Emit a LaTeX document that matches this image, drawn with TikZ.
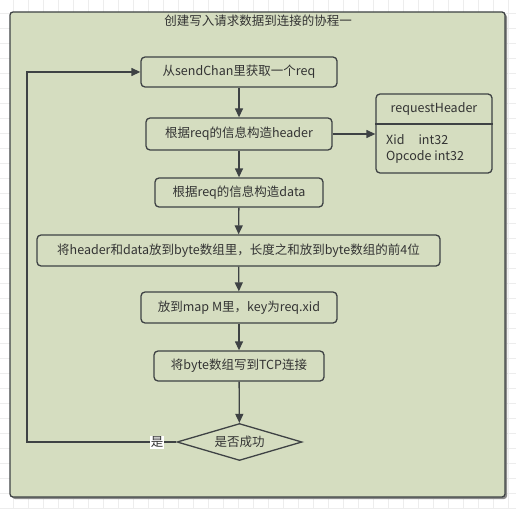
\documentclass[tikz,border=0pt]{standalone}
\usepackage{fontspec}
\setmainfont{Noto Sans CJK SC}
\usetikzlibrary{shapes.geometric,arrows.meta}
\definecolor{frameFill}{RGB}{213,221,192}
\definecolor{lineGray}{RGB}{62,66,68}
\definecolor{txtGray}{RGB}{51,51,51}
\begin{document}
\begin{tikzpicture}[
    x=1pt, y=-1pt,
    % Style for the faint canvas grid
    gridline/.style={draw=black!7, line width=0.7pt},
    % Style for the rounded flow boxes
    flowbox/.style={draw=lineGray, line width=1.3pt, rounded corners=4pt,
        text=txtGray, inner sep=0pt, minimum height=30pt,
        font=\fontsize{12.5}{15}\selectfont},
    % Style for the decision diamond
    decision/.style={diamond, draw=lineGray, line width=1.3pt, aspect=3.4,
        inner sep=0pt, minimum width=125pt, minimum height=37pt,
        text=txtGray, font=\fontsize{12.5}{15}\selectfont},
    % Style for plain text
    plain/.style={text=txtGray, inner sep=0pt, font=\fontsize{12.5}{15}\selectfont},
    % Style for the connectors
    flow/.style={draw=lineGray, line width=1.3pt, -{Triangle[length=9pt,width=8pt]}}
]
    \useasboundingbox (0,0) rectangle (516,508);

    % --- 1. Canvas and frame ---
    \foreach \gx in {13,28,...,508} \draw[gridline] (\gx,0) -- (\gx,508);
    \foreach \gy in {13,28,...,508} \draw[gridline] (0,\gy) -- (516,\gy);

    \fill[black!45, rounded corners=3pt] (12,14) rectangle (507,499);
    \draw[draw=lineGray, fill=frameFill, line width=1.3pt, rounded corners=3pt]
        (10,12) rectangle (505,497);
    \node[plain] (title) at (258,21) {创建写入请求数据到连接的协程一};

    % --- 2. Flow boxes ---
    \node[flowbox, minimum width=196pt] (fetch)  at (239,72)    {从sendChan里获取一个req};
    \node[flowbox, minimum width=186pt, minimum height=32pt] (mkhdr) at (239,134) {根据req的信息构造header};
    \node[flowbox, minimum width=168pt, minimum height=29pt] (mkdata) at (239,192.5) {根据req的信息构造data};
    \node[flowbox, minimum width=403pt, minimum height=31pt] (pack) at (238.5,250.5) {将header和data放到byte数组里，长度之和放到byte数组的前4位};
    \node[flowbox, minimum width=196pt, minimum height=31pt] (store) at (239,307.5) {放到map M里，key为req.xid};
    \node[flowbox, minimum width=170pt] (write) at (239,366) {将byte数组写到TCP连接};
    \node[decision] (ok) at (239.5,442) {是否成功};

    % --- 3. requestHeader box ---
    \node[flowbox, minimum width=116pt, minimum height=79pt] (hdr) at (434,133.5) {};
    \draw[draw=lineGray, line width=1.3pt] (hdr.west |- 0,124) -- (hdr.east |- 0,124);
    \node[plain] (hdrname) at (434,109) {requestHeader};
    \node[plain, anchor=west] (fxid) at (386,140) {Xid\hspace{14pt}int32};
    \node[plain, anchor=west] (fop) at (386,157) {Opcode int32};

    % --- 4. Connectors ---
    \draw[flow] (fetch) -- (mkhdr);
    \draw[flow] (mkhdr) -- (mkdata);
    \draw[flow] (mkdata) -- (pack);
    \draw[flow] (pack) -- (store);
    \draw[flow] (store) -- (write);
    \draw[flow] (write) -- (ok);
    \draw[flow] (mkhdr.east) -- (hdr.west |- mkhdr.east);

    % loop back
    \coordinate (back) at (27,442);
    \draw[flow] (ok.west) -- (back) |- (fetch.west);
    \node[plain, fill=white, inner sep=1pt] (yes) at (157,442) {是};

\end{tikzpicture}
\end{document}
